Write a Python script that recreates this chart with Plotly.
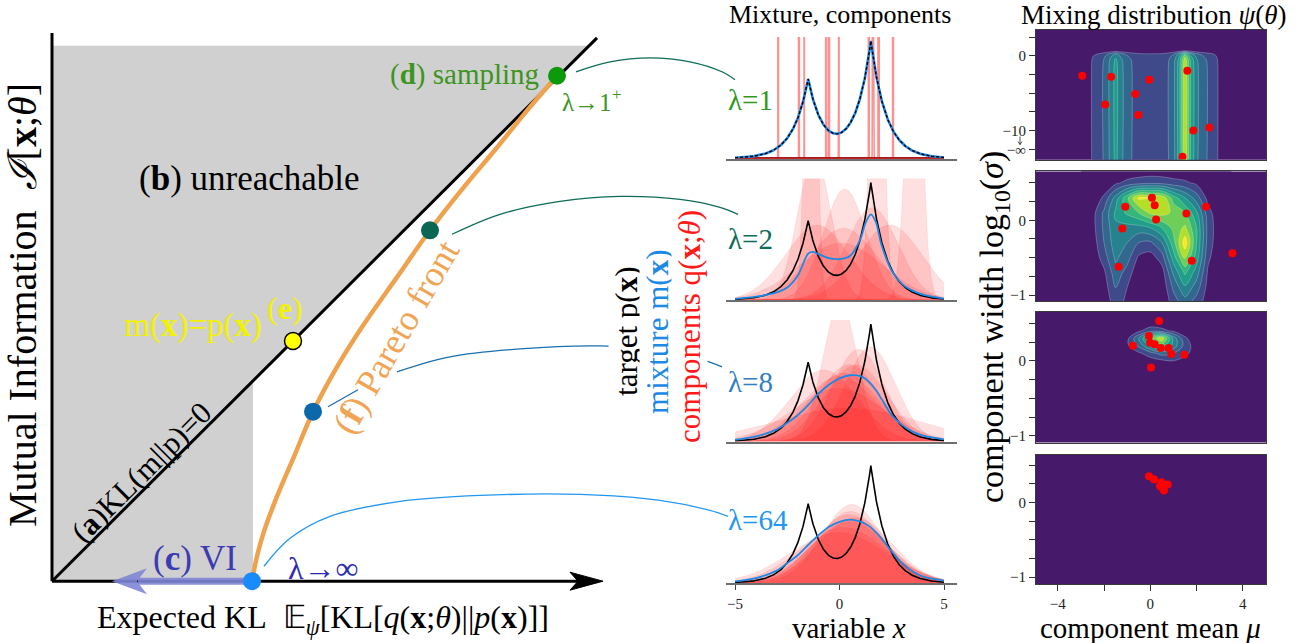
import numpy as np
import plotly.graph_objects as go

W, H = 1300, 643
FONT = "Liberation Serif"

# ------------------------------------------------------------------ data
# target density p(x): two Laplace bumps
target_means = [-1.5, 1.5]
target_weights = [0.4, 0.6]
target_scale = 0.735

lambda_labels = ["λ=1", "λ=2", "λ=8", "λ=64"]

# mixture components (mean mu, log10 width)
comp_mu = [
    [-2.94, -1.69, -1.95, -0.65, -0.52, -0.04, 1.60, 1.86, 2.55, 1.39],
    [0.07, -1.08, 0.19, 0.25, 1.56, 2.41, -1.21, -1.37, 1.79, 3.55],
    [0.38, -0.06, -0.75, -0.01, 0.19, 0.45, 0.79, 0.91, 1.47, 0.03],
    [-0.06, 0.16, 0.48, 0.75, 0.42, 0.52, 0.59, 0.50],
]
comp_logsig = [
    [-2.67, -2.80, -6.5, -5.1, -7.9, -3.2, -2.0, -10.0, -9.6, -13.5],
    [0.30, 0.18, 0.20, 0.01, 0.09, 0.18, -0.11, -0.62, -0.54, -0.44],
    [0.53, 0.33, 0.20, 0.24, 0.22, 0.17, 0.17, 0.09, 0.08, -0.09],
    [0.35, 0.31, 0.27, 0.24, 0.22, 0.20, 0.16, 0.25],
]

# mixture density m(x) (lambda = 2, 8, 64)
mix_x = [-5, -4, -3, -2.5, -2, -1.5, -1.25, -1, -0.5, 0, 0.5, 1, 1.25, 1.5, 1.75, 2, 2.5, 3, 3.5, 4, 5]
mix_l2 = [0.004, 0.012, 0.027, 0.044, 0.085, 0.163, 0.169, 0.161, 0.147, 0.144, 0.155, 0.214,
          0.272, 0.301, 0.272, 0.196, 0.103, 0.056, 0.033, 0.019, 0.005]
mix_l8 = [0.006, 0.018, 0.043, 0.066, 0.093, 0.128, 0.149, 0.169, 0.200, 0.222, 0.233, 0.230,
          0.220, 0.203, 0.180, 0.151, 0.093, 0.058, 0.035, 0.021, 0.008]
mix_l64 = [0.006, 0.018, 0.044, 0.070, 0.098, 0.134, 0.152, 0.169, 0.198, 0.215, 0.223, 0.216,
           0.208, 0.196, 0.178, 0.158, 0.111, 0.070, 0.041, 0.023, 0.009]
mix_series = [None, mix_l2, mix_l8, mix_l64]

# mixing-distribution density psi(theta), panel 1 (separable profile)
psi1_mu = [round(-5 + 0.25 * i, 2) for i in range(41)]
psi1_mu_profile = [0, 0, 0, 0, 0, 0, 0, 0, 0,
                   0.04, 0.11, 0.15, 0.21, 0.31, 0.43, 0.32, 0.24, 0.19, 0.16,
                   0.15, 0.15, 0.15, 0.16, 0.19, 0.26, 0.45, 0.78, 0.48, 0.32,
                   0.24, 0.19, 0.14, 0.08, 0.02,
                   0, 0, 0, 0, 0, 0, 0]
psi1_ls = [-14, -1, -0.5, 0, 0.25, 0.5, 0.75, 1, 3.5]
psi1_ls_profile = [1, 1, 0.97, 0.85, 0.7, 0.35, 0.05, 0, 0]

# panel 2
psi2_mu = [-3, -2.5, -2, -1.5, -1, -0.5, 0, 0.5, 1, 1.5, 2, 2.5, 3, 3.5]
psi2_ls = [-1.1, -0.9, -0.7, -0.5, -0.3, -0.1, 0.1, 0.3, 0.5, 0.7]
psi2_z = [
    [0, 0, 0.02, 0.16, 0.07, 0, 0, 0, 0.15, 0.25, 0.15, 0.05, 0, 0],
    [0, 0, 0.05, 0.20, 0.10, 0, 0, 0.02, 0.22, 0.38, 0.25, 0.06, 0, 0],
    [0, 0, 0.08, 0.26, 0.16, 0.02, 0, 0.05, 0.32, 0.52, 0.35, 0.08, 0, 0],
    [0, 0.02, 0.15, 0.32, 0.24, 0.08, 0.05, 0.15, 0.45, 0.72, 0.45, 0.12, 0.02, 0],
    [0, 0.04, 0.20, 0.36, 0.30, 0.20, 0.18, 0.30, 0.56, 0.86, 0.50, 0.15, 0.03, 0],
    [0, 0.06, 0.22, 0.38, 0.36, 0.36, 0.40, 0.50, 0.63, 0.72, 0.50, 0.16, 0.03, 0],
    [0, 0.06, 0.22, 0.42, 0.52, 0.60, 0.72, 0.74, 0.68, 0.60, 0.42, 0.14, 0.02, 0],
    [0, 0.02, 0.12, 0.34, 0.58, 0.82, 0.80, 0.78, 0.55, 0.40, 0.25, 0.06, 0, 0],
    [0, 0, 0.02, 0.08, 0.13, 0.16, 0.18, 0.17, 0.14, 0.12, 0.08, 0.01, 0, 0],
    [0, 0, 0, 0, 0, 0, 0, 0, 0, 0, 0, 0, 0, 0],
]
# panel 3
psi3_mu = [-1.5, -1, -0.5, 0, 0.5, 1, 1.5, 2, 2.5]
psi3_ls = [-0.2, -0.1, 0, 0.1, 0.2, 0.3, 0.4, 0.5, 0.6]
psi3_z = [
    [0, 0, 0, 0, 0, 0, 0, 0, 0],
    [0, 0, 0, 0, 0.02, 0.03, 0.02, 0, 0],
    [0, 0, 0.02, 0.05, 0.08, 0.10, 0.06, 0.02, 0],
    [0, 0.03, 0.08, 0.16, 0.24, 0.20, 0.13, 0.04, 0],
    [0, 0.08, 0.22, 0.42, 0.56, 0.36, 0.16, 0.04, 0],
    [0, 0.07, 0.30, 0.60, 0.78, 0.36, 0.12, 0.02, 0],
    [0, 0.01, 0.08, 0.16, 0.13, 0.08, 0.03, 0, 0],
    [0, 0, 0.02, 0.04, 0.04, 0.02, 0, 0, 0],
    [0, 0, 0, 0, 0, 0, 0, 0, 0],
]

# left diagram (units: expected KL vs mutual information)
pareto_kl = [2.0, 2.05, 2.12, 2.25, 2.42, 2.61, 2.85, 3.1, 3.45, 3.78, 4.1, 4.45, 4.75, 5.05]
pareto_mi = [0.0, 0.25, 0.5, 0.85, 1.25, 1.70, 2.15, 2.55, 3.05, 3.52, 3.93, 4.35, 4.72, 5.07]
vi_kl = 2.01
diag_end = 5.45
mi_top = 5.37
axis_top = 5.5
axis_right = 5.51
pts_kl = [5.05, 3.78, 2.61, 2.0]
pts_mi = [5.07, 3.52, 1.70, 0.0]
pts_col = ["#0c9a0c", "#0b6652", "#0b69aa", "#178bff"]
equal_pt = 2.41

conn_x = [
    [5.24, 5.58, 5.98, 6.38, 6.70, 6.83],
    [4.00, 4.48, 5.08, 5.68, 6.28, 6.68, 6.86],
    [2.76, 3.06],
    [3.45, 3.98, 4.68, 5.48, 6.08, 6.48, 6.70],
    [2.12, 2.38, 2.78, 3.48, 4.28, 5.28, 6.08, 6.58, 6.76],
]
conn_y = [
    [5.11, 5.21, 5.25, 5.21, 5.11, 5.03],
    [3.48, 3.68, 3.81, 3.86, 3.83, 3.75, 3.68],
    [1.75, 1.92],
    [2.10, 2.25, 2.33, 2.36, 2.31, 2.23, 2.15],
    [0.15, 0.43, 0.65, 0.80, 0.86, 0.87, 0.81, 0.71, 0.65],
]
conn_col = ["#0e6b58", "#0e6b58", "#1a6fae", "#1a6fae", "#2196f3"]
lam_col = ["#2f9a22", "#0e6b58", "#2f80c0", "#2196f3"]

# ------------------------------------------------------------------ helpers
def gauss(x, m, s):
    return np.exp(-0.5 * ((x - m) / s) ** 2) / (s * np.sqrt(2 * np.pi))

def laplace(x, m, b):
    return np.exp(-np.abs(x - m) / b) / (2 * b)

xg = np.linspace(-5, 5, 501)
target = sum(w * laplace(xg, m, target_scale) for m, w in zip(target_means, target_weights))
YMAX = 0.427

fig = go.Figure()
L = dict(xaxis="x", yaxis="y", hoverinfo="skip", showlegend=False)

# gray unreachable region
fig.add_trace(go.Scatter(x=[0, vi_kl, vi_kl, mi_top, 0, 0], y=[0, 0, vi_kl, mi_top, mi_top, 0],
                         fill="toself", fillcolor="#d0d0d0", mode="lines", line=dict(width=0), **L))
# axes
fig.add_trace(go.Scatter(x=[0, 0], y=[0, axis_top], mode="lines", line=dict(color="black", width=3), **L))
fig.add_trace(go.Scatter(x=[0, axis_right - 0.25], y=[0, 0], mode="lines", line=dict(color="black", width=3), **L))
fig.add_trace(go.Scatter(x=[axis_right, axis_right - 0.33, axis_right - 0.25, axis_right - 0.33, axis_right],
                         y=[0, 0.09, 0, -0.09, 0], fill="toself", fillcolor="black", mode="lines",
                         line=dict(color="black", width=1), **L))
# diagonal KL(m||p)=0
fig.add_trace(go.Scatter(x=[0, diag_end], y=[0, diag_end], mode="lines", line=dict(color="black", width=3), **L))
# Pareto front
fig.add_trace(go.Scatter(x=pareto_kl, y=pareto_mi, mode="lines", line=dict(color="#eea24e", width=4.5, shape="spline"), **L))
# VI arrow
fig.add_trace(go.Scatter(x=[vi_kl, 0.86], y=[0, 0], mode="lines", line=dict(color="rgba(128,134,214,0.9)", width=7), **L))
fig.add_trace(go.Scatter(x=[0.6, 0.95, 0.85, 0.95, 0.6], y=[0, 0.13, 0, -0.13, 0], fill="toself",
                         fillcolor="rgba(128,134,214,0.9)", mode="lines", line=dict(width=0), **L))
# connectors
for cx, cy, cc in zip(conn_x, conn_y, conn_col):
    fig.add_trace(go.Scatter(x=cx, y=cy, mode="lines", line=dict(color=cc, width=1.3, shape="spline"), **L))
# points
fig.add_trace(go.Scatter(x=[equal_pt], y=[equal_pt], mode="markers",
                         marker=dict(size=17, color="#ffff00", line=dict(color="black", width=1.5)), **L))
fig.add_trace(go.Scatter(x=pts_kl, y=pts_mi, mode="markers", marker=dict(size=18, color=pts_col), **L))

# ------------------------------------------------------------------ middle panels
for k in range(4):
    ax = str(k + 2)
    M = dict(xaxis="x" + ax, yaxis="y" + ax, hoverinfo="skip", showlegend=False)
    mus, lss = comp_mu[k], comp_logsig[k]
    if k == 0:
        for m, ls in zip(mus, lss):
            s = 10.0 ** ls
            xs = np.sort(np.concatenate([xg, m + s * np.linspace(-4, 4, 33)]))
            ys = np.minimum(gauss(xs, m, s), 50)
            fig.add_trace(go.Scatter(x=xs, y=ys, mode="lines", line=dict(color="rgba(255,70,70,0.6)", width=1.6), **M))
        fig.add_trace(go.Scatter(x=xg, y=np.zeros_like(xg), mode="lines", line=dict(color="#8b0000", width=2.5), **M))
        fig.add_trace(go.Scatter(x=xg, y=target, mode="lines", line=dict(color="#1e88e5", width=2.6), **M))
        fig.add_trace(go.Scatter(x=xg, y=target, mode="lines", line=dict(color="black", width=1.4, dash="3px,2px"), **M))
    else:
        for m, ls in zip(mus, lss):
            s = 10.0 ** ls
            d = gauss(xg, m, s)
            fig.add_trace(go.Scatter(x=xg, y=np.minimum(d, 5), mode="lines", fill="tozeroy",
                                     fillcolor="rgba(255,0,0,0.12)", line=dict(color="rgba(255,0,0,0.10)", width=0.8), **M))
        fig.add_trace(go.Scatter(x=xg, y=target, mode="lines", line=dict(color="black", width=1.6), **M))
        fig.add_trace(go.Scatter(x=mix_x, y=mix_series[k], mode="lines",
                                 line=dict(color="#1e88e5", width=1.8, shape="spline", smoothing=0.8), **M))

# ------------------------------------------------------------------ right panels
viridis_bands = [[0.0, "#46196b"], [0.125, "#3e4a89"], [0.25, "#31688e"], [0.375, "#26828e"],
                 [0.5, "#1f9e89"], [0.625, "#35b779"], [0.75, "#6ece58"], [0.875, "#b5de2b"], [1.0, "#fde725"]]
psi1_z = np.outer(psi1_ls_profile, psi1_mu_profile)
contours = [(psi1_mu, psi1_ls, psi1_z), (psi2_mu, psi2_ls, psi2_z), (psi3_mu, psi3_ls, psi3_z)]
for k in range(4):
    ax = str(k + 6)
    R = dict(xaxis="x" + ax, yaxis="y" + ax, hoverinfo="skip", showlegend=False)
    if k < 3:
        cx, cy, cz = contours[k]
        fig.add_trace(go.Contour(x=cx, y=cy, z=cz, colorscale=viridis_bands, showscale=False,
                                 contours=dict(start=0.1, end=0.8, size=0.1, coloring="fill"),
                                 line=dict(width=0.7, color="rgba(255,255,255,0.35)", smoothing=1.0), **R))
    fig.add_trace(go.Scatter(x=comp_mu[k], y=comp_logsig[k], mode="markers",
                             marker=dict(size=8, color="#ff0000"), **R))

# ------------------------------------------------------------------ layout
def frac_x(p): return p / W
def frac_y(p): return 1 - p / H

lay = dict(
    xaxis=dict(domain=[0, 1], range=[-0.52, 12.48], visible=False, fixedrange=True),
    yaxis=dict(domain=[0, 1], range=[-0.6, 5.83], visible=False, fixedrange=True),
)
tickfont = dict(family=FONT, size=15, color="#222")
mid_dom_y = [(159, 37), (301, 179), (443, 321), (585, 463)]
for k in range(4):
    ax = str(k + 2)
    b, t = mid_dom_y[k]
    xa = dict(domain=[frac_x(726), frac_x(957)], range=[-5.431, 5.622], anchor="y" + ax,
              showgrid=False, zeroline=False, showline=True, linecolor="#6e6e6e", linewidth=1.5,
              ticks="", showticklabels=False)
    if k == 3:
        xa.update(ticks="outside", ticklen=5, tickcolor="#444", tickvals=[-5, 0, 5],
                  ticktext=["−5", "0", "5"], showticklabels=True, tickfont=tickfont, ticklabelstandoff=1)
    lay["xaxis" + ax] = xa
    lay["yaxis" + ax] = dict(domain=[frac_y(b), frac_y(t)], range=[0, YMAX], anchor="x" + ax, visible=False)

right_dom_y = [(160, 30), (302, 172), (444, 313), (586, 456)]
right_rng = [[-13.87, 3.47], [-1.08, 0.653], [-1.09, 0.65], [-1.093, 0.64]]
shapes = []
for k in range(4):
    ax = str(k + 6)
    b, t = right_dom_y[k]
    xa = dict(domain=[frac_x(1036), frac_x(1266)], range=[-4.94, 5.0], anchor="y" + ax,
              showgrid=False, zeroline=False, showline=True, mirror=True, linecolor="#3a3a3a", linewidth=1,
              ticks="", showticklabels=False)
    if k == 3:
        xa.update(ticks="outside", ticklen=6, tickcolor="#333", tickvals=[-4, 0, 4],
                  ticktext=["−4", "0", "4"], showticklabels=True, tickfont=tickfont, ticklabelstandoff=0,
                  minor=dict(tickvals=[-2, 2], ticks="outside", ticklen=6, tickcolor="#333"))
    ya = dict(domain=[frac_y(b), frac_y(t)], range=right_rng[k], anchor="x" + ax,
              showgrid=False, zeroline=False, showline=True, mirror=True, linecolor="#3a3a3a", linewidth=1,
              ticks="outside", ticklen=6, tickcolor="#333", tickfont=tickfont)
    if k == 0:
        ya.update(tickvals=[-12.5, -10, 0], ticktext=["−∞", "−10", "0"],
                  minor=dict(tickvals=[-7.5, -5, -2.5, 2.5], ticks="outside", ticklen=6, tickcolor="#333"))
    else:
        ya.update(tickvals=[-1, 0], ticktext=["−1", "0"],
                  minor=dict(tickvals=[-0.75, -0.5, -0.25, 0.25, 0.5], ticks="outside", ticklen=6, tickcolor="#333"))
    lay["xaxis" + ax] = xa
    lay["yaxis" + ax] = ya
    shapes.append(dict(type="rect", xref="x" + ax + " domain", yref="y" + ax + " domain",
                       x0=0, x1=1, y0=0, y1=1, fillcolor="#46196b", line=dict(width=0), layer="below"))

# tiny downward arrow over the "−∞" tick label
arrow_px = (1020, 137, 145)
ax_, y0_, y1_ = arrow_px
shapes.append(dict(type="path", xref="paper", yref="paper",
                   path="M {a},{b} L {a},{c} M {l},{d} L {a},{c} L {r},{d}".format(
                       a=frac_x(ax_), b=frac_y(y0_), c=frac_y(y1_),
                       l=frac_x(ax_ - 2), r=frac_x(ax_ + 2), d=frac_y(y1_ - 3)),
                   line=dict(color="#222", width=0.8)))

ann = []
def text(xp, yp, s, size, color="black", angle=0, xanchor="center", bg=None):
    d = dict(x=frac_x(xp), y=frac_y(yp), xref="paper", yref="paper", text=s, showarrow=False,
             font=dict(family=FONT, size=size, color=color), textangle=angle,
             xanchor=xanchor, yanchor="middle")
    if bg:
        d["bgcolor"] = bg
        d["borderpad"] = 0
    ann.append(d)

text(22, 306, "Mutual Information\u00a0\u00a0<i>ℐ</i>[<b>x</b>;<i>θ</i>]", 40, angle=-90)
text(323, 621, "Expected KL\u00a0\u00a0𝔼<sub><i>ψ</i></sub>[KL[<i>q</i>(<b>x</b>;<i>θ</i>)||<i>p</i>(<b>x</b>)]]", 32)
text(249, 179, "(<b>b</b>) unreachable", 35)
text(541, 75, "(<b>d</b>) sampling", 29, color="#3b9520", xanchor="right")
text(592, 100, "λ→1<sup>+</sup>", 25, color="#3b9520")
text(193, 327, "m(<b>x</b>)=p(<b>x</b>)", 33, color="#f2f200")
text(285, 309, "(<b>e</b>)", 32, color="#f2f200")
text(141, 474, "(<b>a</b>)KL(m||p)=0", 31, angle=-45)
text(396, 338, "(<b>f</b>) Pareto front", 36, color="#f0a454", angle=-60)
text(195, 560, "(<b>c</b>) VI", 35, color="#3b3bb3")
text(323, 570, "λ→∞", 32, color="#2b2bb0")
text(627, 333, "target p(<b>x</b>)", 31, angle=-90, bg="white")
text(658, 333, "mixture m(<b>x</b>)", 31, color="#1e88e5", angle=-90, bg="white")
text(690, 328, "components q(<b>x</b>;<i>θ</i>)", 31, color="#ff1a1a", angle=-90, bg="white")
lam_y = [100, 240, 383, 522]
for lab, ly, lc in zip(lambda_labels, lam_y, lam_col):
    text(726, ly, lab, 29, color=lc, xanchor="left")
text(840, 15, "Mixture, components", 26)
text(1154, 15, "Mixing distribution <i>ψ</i>(<i>θ</i>)", 27)
text(849, 630, "variable <i>x</i>", 29)
text(1150, 630, "component mean <i>μ</i>", 29)
text(994, 328, "component width log<sub>10</sub>(<i>σ</i>)", 34, angle=-90)

fig.update_layout(**lay)
fig.update_layout(width=W, height=H, margin=dict(l=0, r=0, t=0, b=0), paper_bgcolor="white",
                  plot_bgcolor="rgba(0,0,0,0)", showlegend=False, annotations=ann, shapes=shapes,
                  font=dict(family=FONT))
fig.write_html("out.html", config={"displayModeBar": False},
               post_script="document.body.style.margin='0px';")
